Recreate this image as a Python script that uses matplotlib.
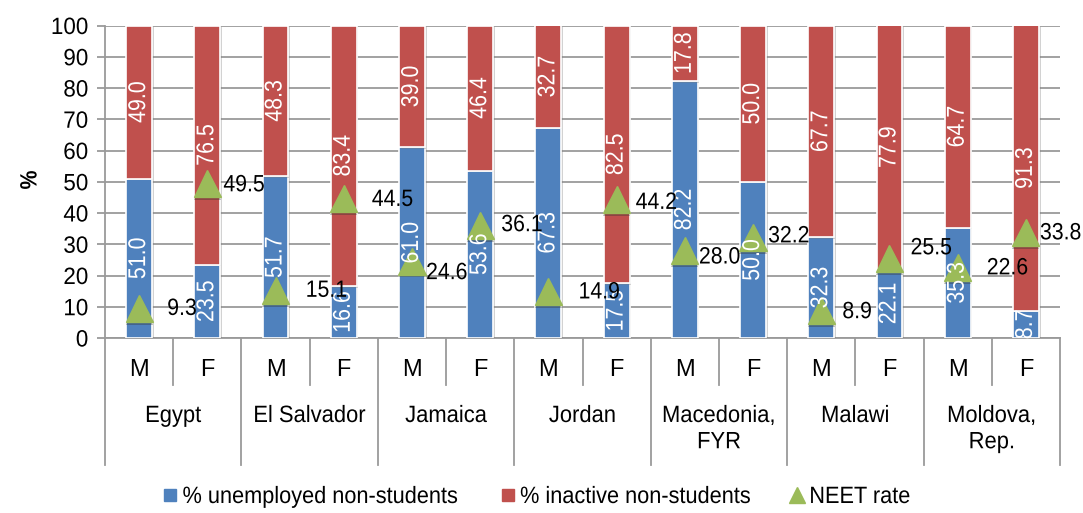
import matplotlib
matplotlib.use("Agg")
import matplotlib.pyplot as plt
from matplotlib.lines import Line2D
from matplotlib.transforms import Affine2D
from matplotlib.patheffects import AbstractPathEffect, SimplePatchShadow, Normal
import numpy as np

# Shares of NEET youth by reason, by country and sex
countries = ["Egypt", "El Salvador", "Jamaica", "Jordan",
             "Macedonia,\nFYR", "Malawi", "Moldova,\nRep."]
sexes = ["M", "F"]
unemployed = [51.0, 23.5, 51.7, 16.6, 61.0, 53.6, 67.3, 17.5,
              82.2, 50.0, 32.3, 22.1, 35.3, 8.7]
inactive = [49.0, 76.5, 48.3, 83.4, 39.0, 46.4, 32.7, 82.5,
            17.8, 50.0, 67.7, 77.9, 64.7, 91.3]
neet = [9.3, 49.5, 15.1, 44.5, 24.6, 36.1, 14.9, 44.2,
        28.0, 32.2, 8.9, 25.5, 22.6, 33.8]
y_ticks = list(range(0, 101, 10))

# Placement of the NEET value labels (left edge offset, vertical offset; pixels)
neet_label_offsets = [(28, 0), (16, -2), (30, 0), (28, -1), (14, -12), (21, 0),
                      (30, -1), (19, -3), (14, -7), (15, 1), (21, -2), (21, 10),
                      (29, -1), (14, -1)]

BLUE = "#4F81BD"
RED = "#C0504D"
GREEN = "#9BBB59"
GRID = "#9A9A9A"
plt.rcParams["font.family"] = ["Liberation Sans", "DejaVu Sans"]


class Squeeze(AbstractPathEffect):
    """Draw text glyphs narrowed along the reading direction."""

    def __init__(self, sx, anchor="center"):
        super().__init__()
        self.sx = sx
        self.anchor = anchor

    def draw_path(self, renderer, gc, tpath, affine, rgbFace=None):
        ext = tpath.get_extents()
        cx = {"left": ext.x0, "center": 0.5 * (ext.x0 + ext.x1),
              "right": ext.x1}[self.anchor]
        t = Affine2D().translate(-cx, 0).scale(self.sx, 1).translate(cx, 0) + affine
        renderer.draw_path(gc, tpath, t, rgbFace)


W, H = 1083, 513
fig = plt.figure(figsize=(W / 100, H / 100), dpi=100)
left, right, top, bottom = 105, 1060, 25.5, 338
ax = fig.add_axes([left / W, 1 - bottom / H, (right - left) / W, (bottom - top) / H])
ax_h_px = bottom - top

x = np.arange(len(unemployed))
bw = 0.38
bar_shadow = [SimplePatchShadow(offset=(1.2, -1.2), shadow_rgbFace="#7f7f7f", alpha=0.35),
              Normal()]
bars_u = ax.bar(x, unemployed, bw, color=BLUE, edgecolor="white", linewidth=1.2, zorder=3)
bars_i = ax.bar(x, inactive, bw, bottom=unemployed, color=RED, edgecolor="white",
                linewidth=1.2, zorder=3)
for b in list(bars_u) + list(bars_i):
    b.set_path_effects(bar_shadow)

ax.plot(x, neet, linestyle="none", marker="^", markersize=19.5, color=GREEN,
        markeredgecolor=GREEN, zorder=4,
        path_effects=[SimplePatchShadow(offset=(0, -2.0), shadow_rgbFace="#303030",
                                        alpha=0.35), Normal()])

# Values written inside each segment
for xi, u, v in zip(x, unemployed, inactive):
    for yc, val in ((u / 2, u), (u + v / 2, v)):
        ax.text(xi, yc, f"{val:.1f}", rotation=90, ha="center", va="center",
                color="white", fontsize=17.5, zorder=5,
                path_effects=[Squeeze(0.88, "center")])

for xi, n, (dx, dy) in zip(x, neet, neet_label_offsets):
    ax.annotate(f"{n:.1f}", (xi, n), xytext=(dx * 0.72, dy * 0.72),
                textcoords="offset points", ha="left", va="center",
                fontsize=17, color="black", zorder=6,
                path_effects=[Squeeze(0.9, "left")])

ax.set_xlim(-0.5, len(x) - 0.5)
ax.set_ylim(0, 100)
ax.set_yticks(y_ticks)
ax.yaxis.grid(True, color=GRID, linewidth=1.3, zorder=0)
ax.set_axisbelow(True)
ax.tick_params(axis="y", length=6, width=1.3, color=GRID, labelsize=17, pad=6)
for lbl in ax.get_yticklabels():
    lbl.set_path_effects([Squeeze(0.95, "right")])
ax.set_xticks([])
for s in ["top", "right"]:
    ax.spines[s].set_visible(False)
for s in ["left", "bottom"]:
    ax.spines[s].set_color(GRID)
    ax.spines[s].set_linewidth(1.3)

# Two-level category axis drawn beneath the plot
tr = ax.get_xaxis_transform()
row1 = -(385 - bottom) / ax_h_px
row2 = -(465 - bottom) / ax_h_px
for k in range(len(x) + 1):
    xb = k - 0.5
    yb = row2 if k % 2 == 0 else row1
    ax.plot([xb, xb], [0, yb], transform=tr, color=GRID, linewidth=1.3,
            clip_on=False, zorder=1)
for xi in x:
    ax.text(xi, -(370 - bottom) / ax_h_px, sexes[xi % 2], transform=tr,
            ha="center", va="center", fontsize=17)
for ci, name in enumerate(countries):
    ax.text(2 * ci + 0.5, -(405 - bottom) / ax_h_px, name, transform=tr,
            ha="center", va="top", fontsize=17, linespacing=1.25,
            multialignment="center", path_effects=[Squeeze(0.93, "center")])

fig.text(30 / W, 1 - 180 / H, "%", rotation=90, ha="center", va="center",
         fontsize=17, fontweight="bold", path_effects=[Squeeze(0.9, "center")])

handles = [
    Line2D([], [], linestyle="none", marker="s", markersize=8.6, color=BLUE),
    Line2D([], [], linestyle="none", marker="s", markersize=8.6, color=RED),
    Line2D([], [], linestyle="none", marker="^", markersize=12, color=GREEN),
]
labels = ["% unemployed non-students", "% inactive non-students", "NEET rate"]
leg = fig.legend(handles, labels, loc="center", bbox_to_anchor=(541 / W, 1 - 497 / H),
                 ncol=3, frameon=False, fontsize=17, handlelength=0.6,
                 handletextpad=0.22, columnspacing=0.78, borderaxespad=0)
for t in leg.get_texts():
    t.set_path_effects([Squeeze(0.92, "left")])

fig.savefig("out.png", dpi=100)
